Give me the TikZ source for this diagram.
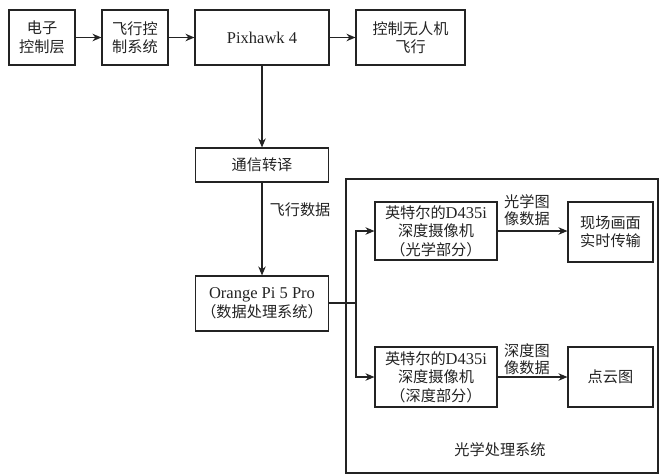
\documentclass[tikz,border=0pt]{standalone}
\usepackage{fontspec}
\setmainfont{Liberation Serif}
\newfontfamily\cjk[Scale=0.92]{Noto Sans CJK SC}
\usetikzlibrary{arrows.meta}
\definecolor{ink}{RGB}{35,35,35}
\tikzset{
  box/.style={draw=ink, text=ink, line width=1.1pt, inner sep=0pt, align=center, font=\fontsize{16.5}{18.5}\selectfont},
  lbl/.style={inner sep=0pt, text=ink, align=center, font=\fontsize{16.5}{17}\selectfont},
  arr/.style={draw=ink, line width=1.1pt, -{Stealth[length=9pt,width=7.5pt]}},
  ln/.style={draw=ink, line width=1.1pt}
}
\begin{document}
\begin{tikzpicture}[x=1pt,y=-1pt]
\useasboundingbox (0,0) rectangle (660,474);
\node[box, minimum width=66pt, minimum height=55pt] (b1) at (42,37.5) {\cjk 电子\\\cjk 控制层};
\node[box, minimum width=66pt, minimum height=55pt] (b2) at (135,37.5) {\cjk 飞行控\\\cjk 制系统};
\node[box, minimum width=134pt, minimum height=55pt] (b3) at (262,37.5) {Pixhawk 4};
\node[box, minimum width=109pt, minimum height=55pt] (b4) at (410.5,37.5) {\cjk 控制无人机\\\cjk 飞行};
\node[box, minimum width=133pt, minimum height=34pt] (b5) at (262,165) {\cjk 通信转译};
\node[box, minimum width=133pt, minimum height=55pt] (b6) at (262,303.5) {Orange Pi 5 Pro\\\cjk （数据处理系统）};
\node[draw=ink, line width=1.1pt, minimum width=312pt, minimum height=294pt, inner sep=0pt] (frame) at (502,326) {};
\node[box, minimum width=122pt, minimum height=58pt] (b7) at (436,231) {{\cjk 英特尔的}D435i\\\cjk 深度摄像机\\\cjk （光学部分）};
\node[box, minimum width=85pt, minimum height=60pt] (b8) at (610.5,232) {\cjk 现场画面\\\cjk 实时传输};
\node[box, minimum width=122pt, minimum height=60pt] (b9) at (436,377) {{\cjk 英特尔的}D435i\\\cjk 深度摄像机\\\cjk （深度部分）};
\node[box, minimum width=85pt, minimum height=60pt] (b10) at (610.5,377) {\cjk 点云图};
\node[lbl] (l1) at (300,210) {\cjk 飞行数据};
\node[lbl] (l2) at (527,210) {\cjk 光学图\\\cjk 像数据};
\node[lbl] (l3) at (527,359) {\cjk 深度图\\\cjk 像数据};
\node[lbl] (l4) at (500,450) {\cjk 光学处理系统};
\draw[arr] (b1) -- (b2);
\draw[arr] (b2) -- (b3);
\draw[arr] (b3) -- (b4);
\draw[arr] (b3) -- (b5);
\draw[arr] (b5) -- (b6);
\coordinate (split) at (356,303);
\draw[ln] (b6.east |- split) -- (split);
\draw[arr] (split) |- (b7.west);
\draw[arr] (split) |- (b9.west);
\draw[arr] (b7.east) -- (b8.west |- b7.east);
\draw[arr] (b9) -- (b10);
\end{tikzpicture}
\end{document}
